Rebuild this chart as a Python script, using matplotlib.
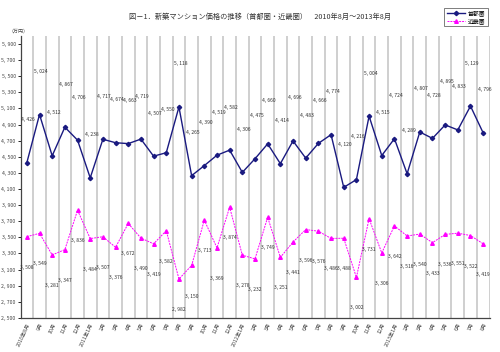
import matplotlib
matplotlib.use("Agg")
import matplotlib.pyplot as plt
import numpy as np

plt.rcParams['font.family'] = ['Noto Sans CJK JP', 'DejaVu Sans']

months = ["2010年8月", "9月", "10月", "11月", "12月",
          "2011年1月", "2月", "3月", "4月", "5月", "6月", "7月", "8月", "9月", "10月", "11月", "12月",
          "2012年1月", "2月", "3月", "4月", "5月", "6月", "7月", "8月", "9月", "10月", "11月", "12月",
          "2013年1月", "2月", "3月", "4月", "5月", "6月", "7月", "8月"]

shutoken = [4426, 5024, 4512, 4867, 4706, 4238, 4717, 4674, 4663, 4719, 4507, 4550,
            5118, 4265, 4390, 4519, 4582, 4306, 4475, 4660, 4414, 4696, 4483, 4666,
            4774, 4120, 4216, 5004, 4515, 4724, 4289, 4807, 4728, 4895, 4833, 5129, 4796]

kinki = [3508, 3549, 3281, 3347, 3836, 3484, 3507, 3376, 3672, 3490, 3419, 3582,
         2982, 3150, 3713, 3369, 3874, 3278, 3232, 3749, 3251, 3441, 3596, 3576,
         3486, 3488, 3002, 3731, 3306, 3642, 3516, 3540, 3433, 3536, 3551, 3522, 3419]

yticks = list(range(2500, 6000, 200))

x = np.arange(len(months))

fig = plt.figure(figsize=(5, 3.52), dpi=100)
ax = fig.add_axes([0.041, 0.097, 0.938, 0.801])

ax.plot(x, shutoken, color='#1a1a80', lw=1.0, marker='D', ms=2.2, label='首都圏', zorder=3)
ax.plot(x, kinki, color='#ff00ff', lw=0.7, ls=(0, (2, 1)), marker='^', ms=2.6,
        label='近畿圏', zorder=3)

for i in range(len(x)):
    ax.annotate(f"{shutoken[i]:,}".replace(",", ", "), (x[i], shutoken[i]),
                xytext=(1, 31), textcoords='offset points', ha='center', va='center',
                fontsize=3.6, color='#333333')
    ax.annotate(f"{kinki[i]:,}".replace(",", ", "), (x[i], kinki[i]),
                xytext=(0, -22), textcoords='offset points', ha='center', va='center',
                fontsize=3.6, color='#333333')

ax.set_xlim(-0.5, len(months) - 0.5)
ax.set_ylim(2500, 6000)
ax.set_yticks(yticks)
ax.set_yticklabels([f"{v:,}".replace(",", ", ") for v in yticks], fontsize=3.8, color='#444444')
ax.set_xticks(x)
ax.set_xticklabels(months, fontsize=3.8, rotation=65, ha='right', va='top',
                   rotation_mode='anchor', color='#444444')
ax.set_xticks(np.arange(-0.5, len(months), 1), minor=True)
ax.tick_params(axis='x', which='both', length=0, pad=3)
ax.tick_params(axis='y', length=2, width=0.6, pad=1.5)
ax.grid(axis='x', which='minor', color='#cccccc', lw=1.3)

for s in ['top', 'right']:
    ax.spines[s].set_visible(False)
ax.spines['left'].set_linewidth(0.9)
ax.spines['bottom'].set_linewidth(0.9)
ax.spines['left'].set_color('#444444')
ax.spines['bottom'].set_color('#444444')

fig.text(0.52, 0.952, "図－1．新築マンション価格の推移（首都圏・近畿圏）　2010年8月～2013年8月",
         ha='center', va='center', fontsize=5.2, color='#333333')
fig.text(0.038, 0.912, "（万円）", ha='center', va='center', fontsize=3.6, color='#444444')

leg = fig.legend(loc='upper right', bbox_to_anchor=(0.982, 0.985), fontsize=4.2,
                 frameon=True, fancybox=False, edgecolor='#444444', handlelength=3.2,
                 borderpad=0.4, labelspacing=0.3, handletextpad=0.5)
leg.get_frame().set_linewidth(0.6)

fig.savefig("out.png", dpi=100)
